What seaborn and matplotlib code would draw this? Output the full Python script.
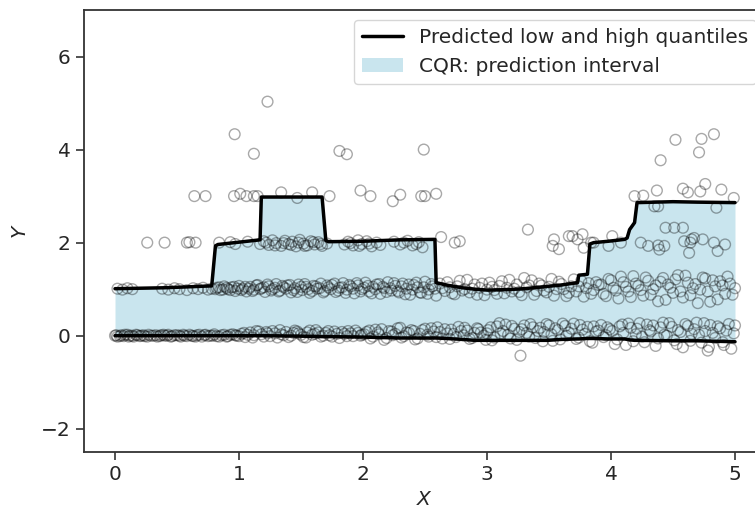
import numpy as np
import pandas as pd
import matplotlib
matplotlib.use("Agg")
import matplotlib.pyplot as plt
import seaborn as sns
from matplotlib.lines import Line2D
from matplotlib.patches import Patch

# ---------------- data ----------------
# predicted quantile curves (shared x breakpoints)
q_x = [0.00, 0.40, 0.78, 0.81, 0.83, 1.00, 1.17, 1.18, 1.19, 1.50, 1.67, 1.70, 1.72, 2.00, 2.30,
       2.58, 2.59, 2.67, 2.80, 2.90, 3.00, 3.17, 3.30, 3.49, 3.60, 3.73, 3.74, 3.81, 3.83, 3.86,
       3.98, 4.11, 4.13, 4.15, 4.19, 4.21, 4.50, 4.70, 5.00]
q_hi = [1.01, 1.03, 1.07, 1.93, 1.96, 2.01, 2.06, 2.98, 2.98, 2.98, 2.98, 2.05, 2.02, 2.03, 2.06,
        2.07, 1.14, 1.09, 1.03, 1.00, 0.98, 0.99, 1.01, 1.06, 1.09, 1.14, 1.30, 1.32, 1.97, 2.00,
        2.03, 2.07, 2.10, 2.28, 2.43, 2.86, 2.88, 2.87, 2.86]
q_lo = [0.00, 0.00, 0.00, 0.00, 0.00, 0.00, 0.00, 0.00, 0.00, -0.01, -0.02, -0.02, -0.02, -0.03, -0.05,
        -0.05, -0.05, -0.06, -0.08, -0.10, -0.10, -0.10, -0.10, -0.10, -0.08, -0.07, -0.07, -0.06, -0.06, -0.06,
        -0.07, -0.07, -0.08, -0.09, -0.10, -0.10, -0.11, -0.11, -0.13]

# observed points, grouped by level
band0 = [(0.00,0.00),(0.02,-0.02),(0.05,0.01),(0.07,-0.01),(0.10,0.02),(0.12,0.00),(0.15,-0.02),(0.18,0.01),
         (0.21,0.00),(0.24,-0.01),(0.27,0.02),(0.31,0.00),(0.34,-0.02),(0.37,0.01),(0.40,0.00),(0.43,0.02),
         (0.46,-0.01),(0.50,0.01),(0.53,-0.02),(0.56,0.00),(0.60,0.02),(0.63,-0.01),(0.66,0.01),(0.70,-0.02),
         (0.73,0.02),(0.77,0.00),(0.80,0.03),(0.84,-0.02),(0.88,0.02),(0.91,-0.01),(0.95,0.03),(0.98,0.00),
         (1.02,0.04),(1.05,-0.03),(1.09,0.07),(1.12,0.01),(1.16,0.09),(1.20,-0.02),(1.23,0.05),(1.27,0.10),
         (1.31,-0.04),(1.34,0.03),(1.38,0.08),(1.42,0.00),(1.45,0.11),(1.48,0.05),(1.52,-0.03),(1.55,0.07),
         (1.59,0.02),(1.62,0.12),(1.66,-0.02),(1.70,0.06),(1.73,0.01),(1.77,0.09),(1.81,-0.05),(1.85,0.04),
         (1.88,0.10),(1.92,-0.01),(1.96,0.06),(1.99,0.02),
         (2.03,0.08),(2.06,-0.06),(2.10,0.13),(2.13,0.03),(2.17,-0.09),(2.21,0.10),(2.24,0.01),(2.28,0.16),
         (2.31,-0.04),(2.35,0.07),(2.39,0.12),(2.42,-0.08),(2.46,0.04),(2.50,0.15),(2.53,-0.02),(2.57,0.09),
         (2.60,0.18),(2.64,-0.06),(2.68,0.05),(2.71,0.13),(2.75,-0.03),(2.79,0.10),(2.82,0.17),(2.86,-0.07),
         (2.90,0.06),(2.93,0.14),(2.97,0.00),
         (3.01,0.12),(3.04,-0.10),(3.08,0.20),(3.11,0.05),(3.15,0.24),(3.19,-0.06),(3.22,0.15),(3.26,0.08),
         (3.27,-0.43),(3.30,0.22),(3.34,-0.02),(3.37,0.18),(3.41,0.10),(3.45,-0.12),(3.48,0.25),(3.52,0.03),
         (3.55,0.16),(3.59,-0.08),(3.63,0.21),(3.66,0.07),(3.70,0.26),(3.74,-0.04),(3.77,0.13),(3.81,0.19),
         (3.85,-0.15),(3.88,0.09),(3.92,0.23),(3.96,0.01),(3.99,0.14),
         (4.03,-0.18),(4.07,0.20),(4.10,0.06),(4.14,0.26),(4.18,-0.12),(4.21,0.15),(4.25,-0.02),(4.29,0.24),
         (4.32,0.09),(4.36,-0.22),(4.40,0.18),(4.43,0.02),(4.47,0.27),(4.51,-0.10),(4.54,0.12),(4.58,-0.25),
         (4.62,0.21),(4.65,0.04),(4.69,0.28),(4.73,-0.15),(4.76,0.10),(4.78,-0.32),(4.80,0.23),(4.84,-0.05),
         (4.88,0.16),(4.91,-0.20),(4.95,0.25),(4.99,0.05)]

band0_more = [(0.01,0.01),(0.04,-0.01),(0.08,0.02),(0.11,-0.02),(0.14,0.00),(0.17,0.02),(0.20,-0.01),
              (0.23,0.01),(0.26,-0.02),(0.29,0.00),(0.33,0.01),(0.36,-0.01),(0.39,0.02),(0.42,0.00),
              (0.45,-0.02),(0.48,0.01),(0.52,0.00),(0.55,0.02),(0.58,-0.01),(0.62,0.00),(0.65,-0.02),
              (0.68,0.02),(0.72,0.01),(0.75,-0.01),(0.79,0.00),(0.82,-0.01),(0.86,0.01),(0.90,-0.02),
              (0.93,0.02),(0.97,0.01),
              (1.00,-0.01),(1.04,0.06),(1.07,0.02),(1.11,-0.04),(1.14,0.10),(1.18,0.03),(1.22,0.08),
              (1.25,-0.01),(1.29,0.05),(1.33,0.12),(1.36,0.01),(1.40,-0.03),(1.44,0.06),(1.47,0.09),
              (1.50,0.02),(1.54,-0.04),(1.57,0.11),(1.61,0.04),(1.64,0.07),(1.68,0.00),(1.72,0.10),
              (1.75,-0.02),(1.79,0.04),(1.83,0.08),(1.87,-0.01),(1.90,0.05),(1.94,0.11),(1.98,0.00),
              (2.01,0.03),(2.05,0.11),(2.08,-0.02),(2.12,0.07),(2.15,0.14),(2.19,-0.05),(2.23,0.09),
              (2.26,0.04),(2.30,0.17),(2.33,-0.01),(2.37,0.06),(2.41,0.10),(2.44,-0.06),(2.48,0.12),
              (2.52,0.02),(2.55,0.16),(2.59,-0.03),(2.62,0.08),(2.66,0.14),(2.70,-0.07),(2.73,0.04),
              (2.77,0.19),(2.81,0.01),(2.84,0.11),(2.88,-0.05),(2.92,0.16),(2.95,0.07),(2.99,-0.09),
              (3.00,0.05),(3.03,0.18),(3.06,-0.04),(3.10,0.27),(3.13,0.10),(3.17,0.02),(3.20,0.21),
              (3.24,-0.09),(3.28,0.14),(3.32,0.06),(3.35,0.25),(3.39,-0.05),(3.43,0.17),(3.46,0.08),
              (3.50,0.22),(3.53,-0.11),(3.57,0.12),(3.61,0.26),(3.64,0.00),(3.68,0.15),(3.72,-0.07),
              (3.75,0.23),(3.79,0.04),(3.83,-0.12),(3.86,0.20),(3.90,0.11),(3.94,-0.03),(3.97,0.18),
              (4.01,0.10),(4.05,-0.08),(4.09,0.24),(4.12,-0.20),(4.16,0.17),(4.20,0.03),(4.23,0.27),
              (4.27,-0.14),(4.31,0.12),(4.34,0.22),(4.38,-0.06),(4.42,0.28),(4.45,0.00),(4.49,0.19),
              (4.53,-0.18),(4.56,0.08),(4.60,0.25),(4.64,-0.11),(4.67,0.14),(4.71,0.02),(4.75,0.27),
              (4.79,-0.24),(4.82,0.06),(4.86,0.20),(4.90,-0.14),(4.93,0.11),(4.97,-0.28),(5.00,0.22)]

band1 = [(0.02,1.01),(0.06,0.99),(0.10,1.02),(0.14,1.00),(0.38,1.01),(0.43,0.99),(0.48,1.02),(0.52,1.00),
         (0.58,0.98),(0.63,1.02),(0.67,1.00),(0.71,1.03),(0.75,0.99),(0.78,1.01),
         (0.82,1.03),(0.85,0.98),(0.88,1.06),(0.91,1.00),(0.94,1.04),(0.97,0.96),(1.00,1.07),(1.03,1.01),
         (1.06,0.95),(1.09,1.05),(1.12,0.99),(1.15,1.09),(1.18,1.02),(1.21,0.94),(1.24,1.06),(1.27,1.00),
         (1.30,1.11),(1.33,0.97),(1.36,1.04),(1.39,1.08),(1.42,0.93),(1.45,1.02),(1.48,1.10),(1.51,0.98),
         (1.54,1.05),(1.57,0.92),(1.60,1.07),(1.63,1.01),(1.66,1.12),(1.69,0.96),(1.72,1.04),(1.75,1.09),
         (1.78,0.94),(1.81,1.03),(1.84,1.13),(1.87,0.99),(1.90,1.06),(1.93,0.91),(1.96,1.08),(1.99,1.00),
         (2.02,1.14),(2.05,0.95),(2.08,1.05),(2.11,1.10),(2.14,0.90),(2.17,1.02),(2.20,1.15),(2.23,0.97),
         (2.26,1.07),(2.29,0.93),(2.32,1.12),(2.35,1.01),(2.38,0.88),(2.41,1.09),(2.44,1.04),(2.47,0.92),
         (2.50,1.16),(2.53,0.99),(2.56,1.06),(2.59,0.86),
         (2.62,1.12),(2.66,0.96),(2.70,1.04),(2.74,0.89),(2.78,1.18),(2.82,1.00),(2.86,0.93),(2.90,1.10),
         (2.94,1.03),(2.98,0.87),(3.02,1.14),(3.06,0.98),(3.10,1.07),(3.14,0.91),(3.18,1.20),(3.22,1.01),
         (3.26,0.94),(3.30,1.24),(3.34,1.08),(3.38,0.88),(3.42,1.12),(3.46,0.97),(3.50,1.05),(3.54,0.86),
         (3.58,1.16),(3.62,1.00),(3.66,0.92),(3.70,1.21),(3.74,1.06),(3.78,0.84),(3.82,1.13),(3.86,0.98),
         (3.90,1.09),
         (3.94,0.90),(3.98,1.22),(4.02,1.03),(4.06,0.80),(4.10,1.15),(4.14,0.95),(4.18,1.28),(4.22,1.07),
         (4.26,0.86),(4.30,1.18),(4.34,1.00),(4.38,0.74),(4.42,1.24),(4.46,1.10),(4.50,0.92),(4.54,1.30),
         (4.58,0.82),(4.62,1.14),(4.66,1.02),(4.70,0.70),(4.74,1.25),(4.78,0.95),(4.82,1.19),(4.86,0.78),
         (4.90,1.08),(4.94,1.27),(4.98,0.88)]

band1_more = [(0.81,1.00),(0.84,1.04),(0.87,0.99),(0.90,1.03),(0.93,0.98),(0.96,1.05),(0.99,1.01),
              (1.02,0.98),(1.05,1.05),(1.08,1.01),(1.11,0.96),(1.14,1.08),(1.17,1.00),(1.20,1.04),
              (1.23,1.10),(1.26,0.97),(1.29,1.03),(1.32,0.95),(1.35,1.07),(1.38,1.01),(1.41,1.09),
              (1.44,0.98),(1.47,0.94),(1.50,1.05),(1.53,1.11),(1.56,1.00),(1.59,0.96),(1.62,1.06),
              (1.65,1.02),(1.68,0.93),(1.71,1.08),(1.74,1.00),(1.77,1.12),(1.80,0.97),(1.83,1.04),
              (1.86,0.92),(1.89,1.09),(1.92,1.01),(1.95,1.13),(1.98,0.95),(2.01,1.03),(2.04,1.07),
              (2.07,0.91),(2.10,1.00),(2.13,1.11),(2.16,1.05),(2.19,0.94),(2.22,1.02),(2.25,1.13),
              (2.28,0.96),(2.31,1.06),(2.34,0.89),(2.37,1.10),(2.40,0.99),(2.43,1.14),(2.46,0.93),
              (2.49,1.04),(2.52,0.90),(2.55,1.11),(2.58,1.01),
              (2.64,1.02),(2.68,1.15),(2.72,0.91),(2.76,1.06),(2.80,0.97),(2.84,1.20),(2.88,1.01),
              (2.92,0.88),(2.96,1.12),(3.00,0.99),(3.04,1.05),(3.08,0.90),(3.12,1.17),(3.16,1.03),
              (3.20,0.95),(3.24,1.10),(3.28,0.87),(3.32,1.04),(3.36,1.19),(3.40,0.96),(3.44,1.08),
              (3.48,0.93),(3.52,1.22),(3.56,1.00),(3.60,1.11),(3.64,0.85),(3.68,1.06),(3.72,0.95),
              (3.76,1.18),(3.80,1.02),(3.84,0.90),(3.88,1.15),
              (3.92,1.10),(3.96,0.85),(4.00,1.19),(4.04,0.97),(4.08,1.27),(4.12,1.05),(4.16,0.83),
              (4.20,1.12),(4.24,0.98),(4.28,1.25),(4.32,0.88),(4.36,1.08),(4.40,1.16),(4.44,0.77),
              (4.48,1.03),(4.52,1.21),(4.56,0.95),(4.60,1.29),(4.64,0.87),(4.68,1.11),(4.72,0.99),
              (4.76,1.23),(4.80,0.73),(4.84,1.06),(4.88,1.17),(4.92,0.90),(4.96,1.12),(5.00,1.02)]

band2 = [(0.26,2.00),(0.40,2.00),(0.58,2.00),(0.60,2.01),(0.65,2.00),(0.84,2.00),(0.93,2.01),(0.97,1.97),
         (1.07,2.02),(1.17,1.97),(1.20,2.03),(1.24,1.95),(1.27,2.05),(1.30,1.99),(1.34,1.93),(1.37,2.04),
         (1.40,1.97),(1.43,2.02),(1.46,1.92),(1.49,2.06),(1.52,1.98),(1.55,1.94),(1.58,2.03),(1.61,1.96),
         (1.64,2.01),(1.67,1.93),(1.71,1.98),(1.85,1.96),(1.88,2.02),(1.92,1.94),(1.96,2.05),(1.99,1.97),
         (2.03,2.03),(2.07,1.92),(2.11,2.00),(2.14,1.95),(2.25,2.02),(2.30,1.96),(2.36,2.04),(2.40,1.94),
         (2.45,2.01),(2.48,1.90),(2.63,2.12),(2.74,2.00),(2.78,2.03),
         (1.22,2.00),(1.29,1.94),(1.36,1.99),(1.42,1.95),(1.48,2.00),(1.53,1.93),(1.60,2.01),(1.66,1.97),
         (1.90,1.99),(1.97,1.93),(2.05,1.98),(2.33,2.00),(2.43,1.97),
         (3.33,2.28),(3.53,1.93),(3.54,2.07),(3.58,1.86),(3.66,2.14),(3.69,2.14),(3.73,2.07),(3.77,2.18),
         (3.78,1.89),(3.84,2.00),(3.86,2.00),(3.98,1.93),(4.01,2.14),(4.08,2.00),(4.24,2.00),(4.30,1.93),
         (4.38,1.94),(4.39,1.85),(4.43,1.93),(4.59,2.03),(4.63,1.78),(4.64,2.00),(4.65,2.07),(4.67,2.10),
         (4.74,2.07),(4.83,2.00),(4.86,1.82),(4.92,1.96),
         (4.44,2.32),(4.51,2.32),(4.58,2.32),(4.35,2.78),(4.38,2.78),(4.85,2.75)]

band3 = [(0.64,3.00),(0.73,3.00),(0.96,3.00),(1.01,3.05),(1.06,3.00),(1.12,3.00),(1.15,3.00),(1.34,3.08),
         (1.47,2.96),(1.59,3.08),(1.73,3.00),(1.98,3.12),(2.06,3.00),(2.24,2.89),(2.30,3.03),(2.47,3.00),
         (2.50,3.00),(2.59,3.05),
         (4.19,3.00),(4.26,3.01),(4.37,3.12),(4.58,3.16),(4.62,3.08),(4.72,3.10),(4.76,3.26),(4.89,3.14),
         (4.99,2.96)]

band_high = [(0.965,4.33),(1.12,3.91),(1.23,5.03),(1.81,3.97),(1.87,3.90),(2.49,4.00),(4.40,3.77),
             (4.52,4.21),(4.71,3.94),(4.73,4.23),(4.83,4.33)]

x_ticks = [0, 1, 2, 3, 4, 5]
y_ticks = [-2, 0, 2, 4, 6]
legend_labels = ["Predicted low and high quantiles", "CQR: prediction interval"]

# ---------------- plotting ----------------
sns.set_theme(style="ticks")
plt.rcParams["font.family"] = ["DejaVu Sans"]
plt.rcParams["font.size"] = 14.5

pts = pd.DataFrame(band0 + band0_more + band1 + band1_more + band2 + band3 + band_high,
                   columns=["x", "y"])
curves = pd.DataFrame({"x": q_x, "lo": q_lo, "hi": q_hi})

fig = plt.figure(figsize=(7.55, 5.11), dpi=100)
ax = fig.add_axes([84 / 755, 59 / 511, 682 / 755, 442 / 511])

ax.fill_between(curves["x"], curves["lo"], curves["hi"], color="lightblue", alpha=0.65,
                linewidth=0, zorder=1)
sns.scatterplot(data=pts, x="x", y="y", ax=ax, marker="o", s=60, facecolors="none",
                edgecolors="black", linewidths=1.0, alpha=0.34, zorder=2, legend=False)
sns.lineplot(data=curves, x="x", y="hi", ax=ax, sort=False, estimator=None, color="black",
             linewidth=2.5, zorder=3)
sns.lineplot(data=curves, x="x", y="lo", ax=ax, sort=False, estimator=None, color="black",
             linewidth=2.5, zorder=3)

ax.set_xlim(-0.25, 5.25)
ax.set_ylim(-2.5, 7.0)
ax.set_xticks(x_ticks)
ax.set_yticks(y_ticks)
ax.set_xlabel("$X$", fontsize=14.5, labelpad=4)
ax.set_ylabel("$Y$", fontsize=14.5, labelpad=8)
ax.tick_params(axis="both", labelsize=14.5, length=6, width=1.2, color="#333333")
for sp in ax.spines.values():
    sp.set_color("#333333")
    sp.set_linewidth(1.3)

handles = [Line2D([0], [0], color="black", lw=2.5),
           Patch(facecolor="lightblue", alpha=0.65, edgecolor="none")]
ax.legend(handles, legend_labels, loc="upper right", fontsize=14.5, frameon=True,
          fancybox=True, framealpha=0.8, borderaxespad=0.5)

fig.savefig("out.png", dpi=100)
